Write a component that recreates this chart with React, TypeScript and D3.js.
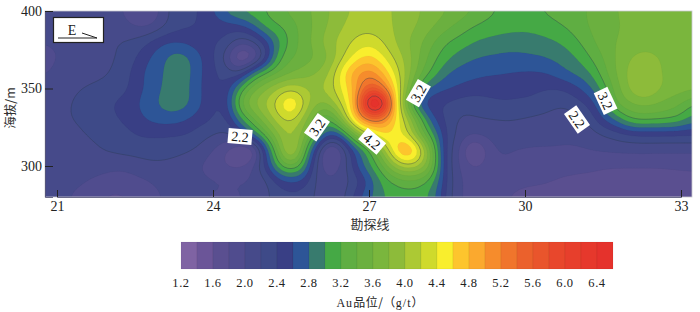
import * as d3 from "d3";
import { useEffect, useRef } from "react";

const row400 = [2.08,2.08,2.08,2.08,2.1,2.15,2.0,1.82,1.76,2.05, 2.3,2.35,2.4,2.6,2.85,3.02,3.1,3.2,3.35,3.45, 3.55,3.65,3.8,3.97,4.02,4.04,4.02,4.0,3.9,3.8, 3.7,3.6,3.5,3.4,3.28,3.18,3.14,3.15,3.19,3.24, 3.3,3.35,3.42,3.5,3.6,3.65,3.68,3.68,3.68,3.68,3.68];
const row390 = [2.05,2.05,2.05,2.08,2.13,2.17,2.1,2.0,1.98,2.15, 2.33,2.38,2.42,2.47,2.5,2.52,2.7,3.05,3.18,3.3, 3.5,3.65,3.85,4.0,4.1,4.14,4.08,3.98,3.88,3.75, 3.6,3.45,3.32,3.2,3.13,3.08,3.06,3.05,3.08,3.13, 3.2,3.3,3.42,3.5,3.58,3.64,3.68,3.68,3.68,3.68,3.68];
const row380 = [2.0,2.02,2.03,2.1,2.15,2.18,2.2,2.25,2.38,2.56, 2.6,2.56,2.47,2.42,2.38,2.05,2.15,2.5,2.95,3.28, 3.5,3.7,3.95,4.08,4.27,4.33,4.22,4.0,3.82,3.62, 3.4,3.2,3.12,3.0,2.95,2.92,2.9,2.9,2.92,2.97, 3.03,3.17,3.34,3.5,3.6,3.68,3.72,3.72,3.7,3.68,3.68];
const row370 = [1.97,2.0,2.03,2.08,2.13,2.18,2.22,2.38,2.58,2.72, 2.9,2.85,2.62,2.42,2.15,1.5,1.72,2.3,3.15,3.38, 3.5,3.62,3.82,4.2,4.5,4.7,4.45,4.15,3.9,3.55, 3.25,3.05,2.9,2.82,2.78,2.76,2.74,2.76,2.78,2.82, 2.9,3.0,3.2,3.4,3.62,3.78,3.87,3.82,3.75,3.7,3.68];
const row360 = [1.98,2.03,2.08,2.12,2.15,2.2,2.27,2.48,2.66,2.74, 2.97,2.87,2.63,2.42,2.35,2.2,2.85,3.2,3.42,3.6, 3.7,3.8,4.0,4.55,4.95,5.15,4.85,4.35,3.9,3.4, 3.1,2.8,2.72,2.66,2.63,2.62,2.6,2.58,2.58,2.62, 2.75,2.85,2.98,3.3,3.6,3.85,4.0,3.85,3.75,3.7,3.68];
const row350 = [2.05,2.1,2.16,2.21,2.24,2.27,2.32,2.5,2.65,2.78, 2.97,2.84,2.62,2.42,2.4,3.02,3.5,3.75,4.0,4.18, 4.0,3.95,4.1,4.45,4.9,5.7,5.4,4.55,3.75,3.0, 2.7,2.62,2.55,2.5,2.48,2.47,2.45,2.44,2.42,2.4, 2.42,2.55,2.75,3.08,3.5,3.8,4.05,3.88,3.72,3.68,3.65];
const row340 = [2.1,2.13,2.2,2.24,2.26,2.38,2.46,2.55,2.72,2.83, 2.94,2.84,2.62,2.42,2.4,3.35,3.75,4.0,4.3,4.7, 4.2,3.75,3.8,4.3,4.85,6.9,6.8,4.6,3.5,2.6, 2.45,2.38,2.3,2.28,2.33,2.38,2.38,2.37,2.35,2.26, 2.22,2.32,2.45,2.85,3.4,3.55,3.65,3.6,3.5,3.42,3.15];
const row330 = [2.08,2.1,2.2,2.24,2.28,2.33,2.42,2.5,2.62,2.68, 2.68,2.6,2.48,2.4,2.3,2.9,3.3,3.75,4.1,4.3, 3.9,3.4,3.08,3.9,4.7,5.3,5.25,4.6,4.05,3.25, 2.6,2.35,2.15,2.18,2.19,2.2,2.2,2.17,2.14,2.12, 2.1,2.14,2.25,2.6,2.82,3.18,3.25,3.22,3.2,3.1,2.85];
const row320 = [2.06,2.06,2.1,2.19,2.25,2.28,2.32,2.4,2.42,2.42, 2.41,2.4,2.28,2.2,2.15,2.3,2.75,3.22,3.8,4.05, 3.7,3.05,2.55,2.75,3.7,4.1,4.6,4.5,4.3,3.55, 3.0,2.35,2.12,1.98,2.05,2.1,2.12,2.12,2.1,2.08, 2.06,2.06,2.1,2.2,2.28,2.38,2.4,2.4,2.4,2.4,2.4];
const row310 = [2.03,2.02,2.03,2.08,2.17,2.22,2.26,2.28,2.3,2.3, 2.26,2.22,2.15,2.0,1.8,1.6,1.5,2.6,3.4,4.3, 3.3,2.4,1.55,2.1,2.7,3.15,3.8,4.6,5.0,4.3, 3.35,2.25,2.05,1.4,1.85,2.03,2.0,1.97,1.96,1.97, 1.96,1.97,2.0,2.02,2.04,2.05,2.06,2.05,2.05,2.04,2.03];
const row300 = [2.08,2.07,2.07,2.08,2.08,2.05,2.03,2.08,2.14,2.15, 2.13,2.1,2.0,1.9,1.8,1.75,1.95,2.45,3.1,3.45, 3.05,2.1,1.85,2.05,2.6,2.95,3.35,3.9,4.15,3.95, 3.4,2.25,2.02,1.75,1.88,1.97,1.94,1.92,1.92,1.9, 1.88,1.86,1.85,1.82,1.81,1.81,1.81,1.81,1.82,1.84,1.85];
const row290 = [2.08,2.08,2.05,2.02,1.96,1.92,1.92,1.95,1.99,2.05, 2.08,2.08,2.05,2.02,2.0,2.0,2.02,2.12,2.5,2.6, 2.55,2.12,2.03,2.1,2.3,2.65,3.05,3.25,3.35,3.28, 3.05,2.35,2.0,1.93,1.93,1.88,1.84,1.82,1.82,1.8, 1.76,1.75,1.74,1.73,1.72,1.72,1.72,1.72,1.72,1.72,1.72];
const row280 = [2.08,2.05,2.0,1.93,1.85,1.76,1.76,1.85,1.92,2.0, 2.05,2.05,2.02,1.98,1.97,1.98,2.05,2.15,2.28,2.35, 2.3,2.15,2.1,2.1,2.55,2.75,2.98,3.08,3.12,3.08, 2.9,2.3,2.0,1.92,1.88,1.82,1.79,1.77,1.75,1.73, 1.72,1.7,1.7,1.7,1.7,1.7,1.7,1.7,1.7,1.7,1.7];

const gradeRows = [row400, row390, row380, row370, row360, row350, row340, row330, row320, row310, row300, row290, row280];

const lineTicks = [21, 24, 27, 30, 33];
const elevationTicks = [300, 350, 400];

// one colour per 0.2 g/t band, starting at 1.2
const bandColors = [
  "#7f63a3", "#6b5598", "#5a4f90", "#504c8e", "#464a8a", "#3e4a88", "#393f85", "#2d5597", "#387b6e",
  "#45a945", "#5fae42", "#6bb03f", "#7ab63d", "#8dbb3a", "#acc934", "#cfda2c", "#f9ee2d", "#fdc52d",
  "#fba92e", "#f68c2c", "#f0752c", "#eb612c", "#e9552c", "#e8472c", "#e73f2c", "#e6382c", "#e5322c",
];
const bandStarts = bandColors.map((_, i) => +(1.2 + i * 0.2).toFixed(1));
const legendLabels = bandStarts.filter((_, i) => i % 2 === 0);
const majorContours = [2.2, 3.2, 4.2, 5.2, 6.2];

const contourLabels = [
  { text: "2.2", line: 24.52, elev: 319, angle: 5 },
  { text: "3.2", line: 26.0, elev: 325, angle: -55 },
  { text: "4.2", line: 27.06, elev: 316, angle: 40 },
  { text: "3.2", line: 27.95, elev: 347, angle: -60 },
  { text: "2.2", line: 31.0, elev: 330, angle: 55 },
  { text: "3.2", line: 31.55, elev: 342, angle: 65 },
];

const W = 700;
const H = 312;
const plot = { l: 45, r: 692, t: 11, b: 197 };
const legend = { x: 181, y: 242, w: 432, h: 27 };
const SERIF = "'Liberation Serif', serif";
const CJK = "'Noto Sans CJK SC', sans-serif";

// smooth the hand read grid so the contour edges do not look faceted
const resample = (rows: number[][], k: number) => {
  const ny = rows.length;
  const nx = rows[0].length;
  const at = (j: number, i: number) => rows[Math.max(0, Math.min(ny - 1, j))][Math.max(0, Math.min(nx - 1, i))];
  const cr = (a: number, b: number, c: number, d: number, t: number) =>
    b + 0.5 * t * (c - a + t * (2 * a - 5 * b + 4 * c - d + t * (3 * (b - c) + d - a)));
  const w = (nx - 1) * k + 1;
  const h = (ny - 1) * k + 1;
  const out = new Array(w * h);
  for (let y = 0; y < h; y++) {
    const j = Math.floor(y / k);
    const ty = y / k - j;
    for (let x = 0; x < w; x++) {
      const i = Math.floor(x / k);
      const tx = x / k - i;
      const col = [-1, 0, 1, 2].map((dj) =>
        cr(at(j + dj, i - 1), at(j + dj, i), at(j + dj, i + 1), at(j + dj, i + 2), tx)
      );
      out[y * w + x] = cr(col[0], col[1], col[2], col[3], ty);
    }
  }
  d3.blur2({ data: out, width: w, height: h }, 1.5, 1);
  return { w, h, values: out };
};

const App = () => {
  const container = useRef<SVGSVGElement>(null);

  useEffect(() => {
    const svg = d3.select(container.current);
    svg.selectAll("*").remove();

    const xScale = d3.scaleLinear().domain([21, 33]).range([57, 681]);
    const yScale = d3.scaleLinear().domain([400, 280]).range([plot.t, plot.b]);

    const k = 4;
    const field = resample(gradeRows, k);
    const transform = d3.geoTransform({
      point(x: number, y: number) {
        // contour coordinates sit half a cell off the grid nodes
        const line = 20.75 + ((x - 0.5) / k) * 0.25;
        const elev = 400 - ((y - 0.5) / k) * 10;
        (this as any).stream.point(xScale(line), yScale(elev));
      },
    });
    const path = d3.geoPath(transform);
    const contours = d3.contours().size([field.w, field.h]).smooth(true);

    svg
      .append("clipPath")
      .attr("id", "plot-clip")
      .append("rect")
      .attr("x", plot.l)
      .attr("y", plot.t)
      .attr("width", plot.r - plot.l)
      .attr("height", plot.b - plot.t);

    const map_g = svg.append("g").attr("clip-path", "url(#plot-clip)");
    map_g
      .append("rect")
      .attr("x", plot.l)
      .attr("y", plot.t)
      .attr("width", plot.r - plot.l)
      .attr("height", plot.b - plot.t)
      .attr("fill", bandColors[3]);

    bandStarts.forEach((t, i) => {
      const geom = contours.contour(field.values, t);
      const major = majorContours.includes(t);
      map_g
        .append("path")
        .attr("d", path(geom as any))
        .attr("fill", bandColors[i])
        .attr("stroke", major ? "#2a3a50" : "#000")
        .attr("stroke-opacity", major ? 0.55 : 0.05)
        .attr("stroke-width", major ? 0.7 : 0.5);
    });

    // frame
    svg
      .append("rect")
      .attr("x", plot.l)
      .attr("y", plot.t)
      .attr("width", plot.r - plot.l)
      .attr("height", plot.b - plot.t)
      .attr("fill", "none")
      .attr("stroke", "#c9c9d0")
      .attr("stroke-width", 0.8);

    // axes, ticks point into the map
    const xaxisg = svg
      .append("g")
      .attr("transform", `translate(0,${plot.b})`)
      .call(d3.axisBottom(xScale).tickValues(lineTicks).tickSize(-7).tickPadding(4).tickFormat(d3.format("d")));
    const yaxisg = svg
      .append("g")
      .attr("transform", `translate(${plot.l},0)`)
      .call(d3.axisLeft(yScale).tickValues(elevationTicks).tickSize(-8).tickPadding(3).tickFormat(d3.format("d")));
    [xaxisg, yaxisg].forEach((g) => {
      g.select(".domain").attr("stroke", "#4a4a70").attr("stroke-width", 0.8);
      g.selectAll(".tick line").attr("stroke", "#222").attr("stroke-width", 1);
      g.selectAll("text").attr("font-family", SERIF).attr("font-size", 14).attr("fill", "#222");
    });

    // contour labels
    contourLabels.forEach((d) => {
      const g = svg
        .append("g")
        .attr("transform", `translate(${xScale(d.line)},${yScale(d.elev)}) rotate(${d.angle})`);
      g.append("rect").attr("x", -12).attr("y", -7.5).attr("width", 24).attr("height", 15).attr("fill", "#fff");
      g.append("text")
        .attr("text-anchor", "middle")
        .attr("y", 5)
        .attr("font-family", SERIF)
        .attr("font-size", 14)
        .attr("fill", "#111")
        .text(d.text);
    });

    // direction box
    svg
      .append("rect")
      .attr("x", 53.5)
      .attr("y", 17.5)
      .attr("width", 50)
      .attr("height", 25)
      .attr("fill", "#fff")
      .attr("stroke", "#222")
      .attr("stroke-width", 1.2);
    svg
      .append("text")
      .attr("x", 72)
      .attr("y", 35)
      .attr("text-anchor", "middle")
      .attr("font-family", SERIF)
      .attr("font-size", 14)
      .attr("fill", "#222")
      .text("E");
    svg.append("path").attr("d", "M58,38H97L82,33").attr("fill", "none").attr("stroke", "#222").attr("stroke-width", 1);

    // titles
    svg
      .append("text")
      .attr("transform", "translate(15,108) rotate(-90)")
      .attr("text-anchor", "middle")
      .attr("font-family", CJK)
      .attr("font-size", 12.5)
      .attr("fill", "#333")
      .text("海拔/m");
    svg
      .append("text")
      .attr("x", 370)
      .attr("y", 229)
      .attr("text-anchor", "middle")
      .attr("font-family", CJK)
      .attr("font-size", 13)
      .attr("fill", "#333")
      .text("勘探线");

    // colour legend
    const legendScale = d3
      .scaleLinear()
      .domain([1.2, 6.6])
      .range([legend.x, legend.x + legend.w]);
    svg
      .append("g")
      .selectAll("rect")
      .data(bandStarts)
      .join("rect")
      .attr("x", (d) => legendScale(d))
      .attr("y", legend.y)
      .attr("width", legendScale(1.4) - legendScale(1.2))
      .attr("height", legend.h)
      .attr("fill", (_, i) => bandColors[i])
      .attr("stroke", "#000")
      .attr("stroke-opacity", 0.08)
      .attr("stroke-width", 0.6);
    svg
      .append("g")
      .selectAll("text")
      .data(legendLabels)
      .join("text")
      .attr("x", (d) => legendScale(d))
      .attr("y", 287)
      .attr("text-anchor", "middle")
      .attr("font-family", SERIF)
      .attr("font-size", 12.5)
      .attr("letter-spacing", 0.6)
      .attr("fill", "#222")
      .text((d) => d.toFixed(1));

    const unit = svg
      .append("text")
      .attr("x", 380)
      .attr("y", 307)
      .attr("text-anchor", "middle")
      .attr("font-size", 12)
      .attr("fill", "#222");
    unit.append("tspan").attr("font-family", SERIF).attr("letter-spacing", 1).text("Au");
    unit.append("tspan").attr("font-family", CJK).attr("letter-spacing", 0.5).text("品位/（");
    unit.append("tspan").attr("font-family", SERIF).attr("letter-spacing", 1).text("g/t");
    unit.append("tspan").attr("font-family", CJK).text("）");
  }, []);

  return (
    <svg
      ref={container}
      width={W}
      height={H}
      style={{ position: "absolute", left: 0, top: 0, background: "#fff" }}
    />
  );
};

export default App;
